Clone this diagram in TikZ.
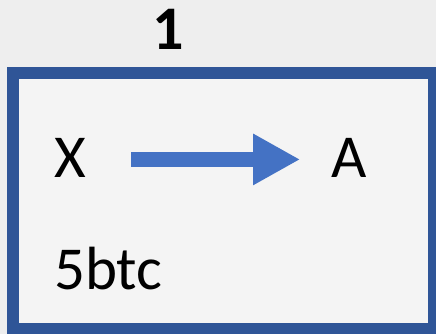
\documentclass[tikz,border=0pt]{standalone}
\usepackage{fontspec}
\setmainfont{Carlito}
\usetikzlibrary{arrows.meta}
\definecolor{boxblue}{HTML}{2F5597}
\definecolor{arrblue}{HTML}{4472C4}
\definecolor{bggray}{HTML}{EEEEEE}
\definecolor{innergray}{HTML}{F4F4F4}
\tikzset{
  lbl/.style={inner sep=0pt, font=\fontsize{61}{61}\selectfont, anchor=base},
  arr/.style={arrblue, line width=15pt, -{Triangle[length=47pt,width=48pt]}},
}
\begin{document}
\begin{tikzpicture}[x=1pt,y=-1pt]
\useasboundingbox (0,0) rectangle (436,334);
\fill[bggray] (0,0) rectangle (436,334);
\fill[innergray] (13,73) rectangle (434,329);
\draw[boxblue, line width=12pt] (13,73) rectangle (434,329);
\node[lbl, font=\fontsize{62}{62}\selectfont\bfseries] (one) at (168,50) {1};
\node[lbl] (X) at (70,177) {X};
\node[lbl] (A) at (349,177) {A};
\node[lbl, anchor=base west] (btc) at (54,289) {5btc};
\draw[arr, shorten <=45pt, shorten >=31pt] ([yshift=-2pt]X.east) -- ([yshift=-2pt]A.west);
\end{tikzpicture}
\end{document}
